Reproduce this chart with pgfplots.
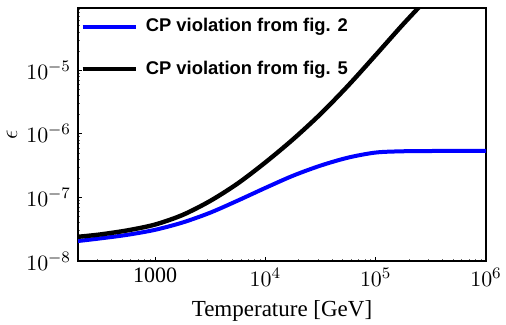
\documentclass[border=0pt]{standalone}
\usepackage{fontspec}
\setmainfont{Liberation Serif}
\newfontfamily\legfont{Liberation Sans}
\usepackage{pgfplots}
\pgfplotsset{compat=1.18}
\definecolor{cpblue}{RGB}{0,0,255}

\begin{document}
\begin{tikzpicture}
\begin{axis}[
  xmode=log, ymode=log,
  scale only axis, width=204pt, height=126.5pt,
  xmin=200, xmax=1e6, ymin=1e-8, ymax=9.5e-5,
  axis line style={line width=1pt},
  tick align=inside, tick pos=left,
  major tick length=2.2pt, minor tick length=1pt,
  tick style={black, line width=0.6pt},
  minor tick style={black!60, line width=0.3pt},
  xtick={1000,1e4,1e5,1e6},
  xticklabels={1000,$10^{4}$,$10^{5}$,$10^{6}$},
  ytick={1e-8,1e-7,1e-6,1e-5},
  minor xtick={300,400,500,600,700,800,900,2000,3000,4000,5000,6000,7000,8000,9000,
    20000,30000,40000,50000,60000,70000,80000,90000,
    200000,300000,400000,500000,600000,700000,800000,900000},
  minor ytick={2e-8,3e-8,4e-8,5e-8,6e-8,7e-8,8e-8,9e-8,
    2e-7,3e-7,4e-7,5e-7,6e-7,7e-7,8e-7,9e-7,
    2e-6,3e-6,4e-6,5e-6,6e-6,7e-6,8e-6,9e-6,
    2e-5,3e-5,4e-5,5e-5,6e-5,7e-5,8e-5,9e-5},
  tick label style={font=\fontsize{11}{13}\selectfont},
  xlabel={Temperature [GeV]},
  ylabel={$\epsilon$},
  label style={font=\fontsize{11.5}{13}\selectfont},
  xlabel style={at={(axis description cs:0.5,0)}, anchor=center, yshift=-25pt},
  ylabel style={at={(axis description cs:0,0.5)}, anchor=center, yshift=33pt},
  legend cell align=left,
  legend image code/.code={\draw[#1] (0pt,0pt) -- (26.5pt,0pt); \path (28.5pt,0pt);},
  legend style={at={(0,1)}, anchor=north west, xshift=-2pt, yshift=-1pt,
    draw=none, fill=none, row sep=9pt,
    font=\legfont\bfseries\fontsize{9.2}{10}\selectfont},
]
\coordinate (bl) at (rel axis cs:0,0);
\coordinate (tr) at (rel axis cs:1,1);
\addplot[cpblue, line width=2pt, smooth] coordinates {
  (200,2.06e-8) (316.2,2.26e-8) (562.3,2.58e-8) (1000,3.09e-8) (1778,4.03e-8)
  (3162,5.75e-8) (5623,8.91e-8) (10000,1.41e-7) (17783,2.19e-7) (31623,3.16e-7)
  (56234,4.22e-7) (100000,5.07e-7) (177828,5.31e-7) (316228,5.36e-7)
  (562341,5.37e-7) (1000000,5.38e-7)
};
\addlegendentry{CP violation from fig. 2}
\addplot[black, line width=2.2pt, smooth] coordinates {
  (200,2.40e-8) (316.2,2.61e-8) (562.3,3.03e-8) (1000,3.74e-8) (1778,5.30e-8)
  (3162,8.80e-8) (5623,1.66e-7) (10000,3.55e-7) (17783,8.17e-7) (31623,2.05e-6)
  (56234,5.72e-6) (100000,1.73e-5) (177828,5.31e-5) (316228,1.54e-4)
};
\addlegendentry{CP violation from fig. 5}
\end{axis}
\pgfresetboundingbox
\path[use as bounding box] ([shift={(-39pt,-32pt)}]bl) rectangle ([shift={(10pt,4pt)}]tr);
\end{tikzpicture}
\end{document}
